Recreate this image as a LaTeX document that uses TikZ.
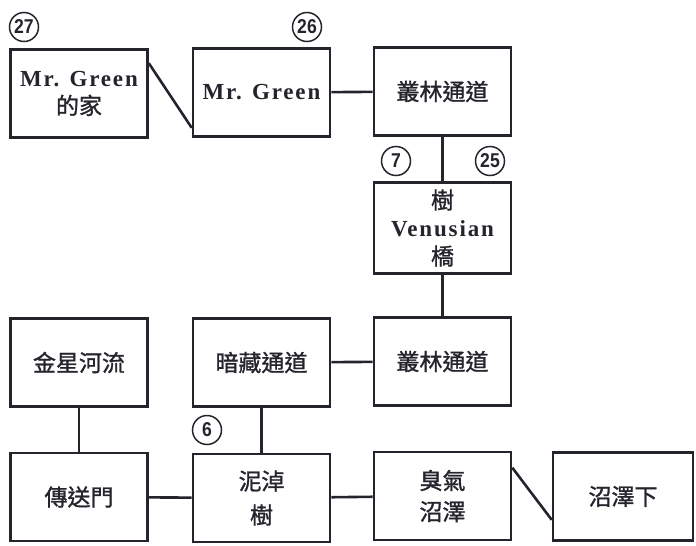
\documentclass[tikz,border=0pt]{standalone}
\usepackage{fontspec}
\usepackage{xcolor}
\newfontfamily\cjk[FakeBold=1.2]{Noto Sans CJK TC}
\newfontfamily\latin[LetterSpace=8]{Liberation Serif}
\newfontfamily\numfont[FakeStretch=0.88]{Liberation Sans}
\definecolor{Ink}{HTML}{24242C}

\begin{document}
\begin{tikzpicture}[x=1pt,y=-1pt,
  room/.style={draw=Ink,line width=2.6pt,minimum width=137pt,minimum height=88pt,inner sep=0pt,align=center,text=Ink,font=\cjk\fontsize{23}{28}\selectfont},
  eng/.style={font=\latin\bfseries\fontsize{23}{28}\selectfont},
  link/.style={draw=Ink,line width=2.6pt},
  num/.style={circle,draw=Ink,line width=1.5pt,minimum size=29pt,inner sep=0pt,text=Ink,font=\numfont\bfseries\fontsize{20}{20}\selectfont}]
\useasboundingbox (0,0) rectangle (696,546);
% rooms
\node[room] (home) at (79,93.5) {{\latin\bfseries\fontsize{23}{28}\selectfont Mr. Green}\\的家};
\node[room,eng] (green) at (261.5,92.5) {Mr. Green};
\node[room] (jungleA) at (442.5,91.5) {叢林通道};
\node[room,minimum height=91pt] (bridge) at (442.5,228) {樹\\{\latin\bfseries\fontsize{23}{28}\selectfont Venusian}\\橋};
\node[room] (river) at (79,362.5) {金星河流};
\node[room] (hidden) at (261.5,362.5) {暗藏通道};
\node[room] (jungleB) at (442.5,361.5) {叢林通道};
\node[room] (portal) at (79,497) {傳送門};
\node[room] (mud) at (261.5,498) {泥淖\\[6pt]樹};
\node[room] (stink) at (442.5,496) {臭氣\\[3pt]沼澤};
\node[room,minimum width=140pt] (under) at (623,496.5) {沼澤下};
% numbers
\node[num] (n27) at (24,27) {27};
\node[num] (n26) at (307,27) {26};
\node[num] (n7) at (396,161) {7};
\node[num] (n25) at (490,161) {25};
\node[num] (n6) at (207,430) {6};
% links
\draw[link] ([yshift=-15pt]home.north east) -- ([yshift=10pt]green.south west);
\draw[link] (green) -- (jungleA);
\draw[link] (jungleA) -- (bridge);
\draw[link] (bridge) -- (jungleB);
\draw[link] (jungleB) -- (hidden);
\draw[link] (river) -- (portal);
\draw[link] (hidden) -- (mud);
\draw[link] (portal) -- (mud);
\draw[link] (mud) -- (stink);
\draw[link] ([yshift=-17pt]stink.north east) -- ([yshift=22pt]under.south west);
\end{tikzpicture}
\end{document}
